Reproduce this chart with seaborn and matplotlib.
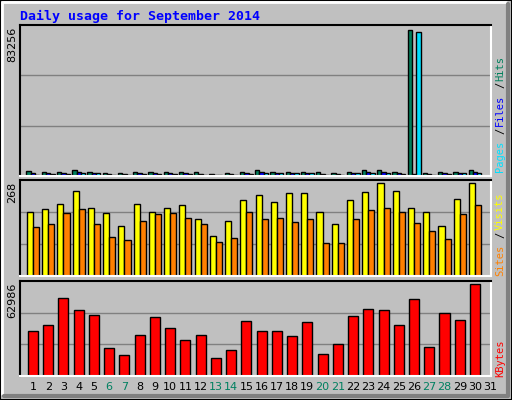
import matplotlib
matplotlib.use("Agg")
import matplotlib.pyplot as plt
import seaborn as sns
import pandas as pd
from matplotlib.patches import Rectangle
from matplotlib.lines import Line2D

days = list(range(1, 32))
hits = [2600,2500,2500,3300,2500,1700,1600,2500,2500,2500,2500,2200,900,1500,2500,3300,2500,2500,2500,2200,1700,2500,3300,3300,2500,83256,1600,2500,2500,3300,0]
files = [1500,1900,1900,2400,1900,1000,900,1900,1900,1900,1900,1200,500,900,1900,2400,1900,1900,1900,1200,900,1900,2400,2400,1900,1200,900,1900,1900,2400,0]
pages = [800,900,900,1600,1600,600,500,900,900,900,900,700,300,500,900,1600,1600,1600,1600,700,500,1600,1600,1600,900,82500,500,900,1600,1600,0]
visits = [186,195,207,245,198,181,146,207,186,198,204,166,117,160,221,233,213,239,239,186,151,221,242,268,245,198,186,146,224,268,0]
sites = [143,151,181,195,151,114,105,160,178,181,169,151,99,111,184,166,169,157,166,96,96,166,192,198,184,154,131,108,178,204,0]
kbytes = [31150,35270,53290,45670,42200,19400,14550,28410,40820,33190,24940,28410,12470,18010,38040,31150,31150,27710,37350,15240,22170,41510,46360,45670,35270,52590,20090,43590,38740,62986,0]
weekend = [6,7,13,14,20,21,27,28]
title = "Daily usage for September 2014"

df = pd.DataFrame(dict(day=days, hits=hits, files=files, pages=pages,
                       visits=visits, sites=sites, kbytes=kbytes))

BG = "#C0C0C0"
sns.set_style("white")
plt.rcParams['font.family'] = ['DejaVu Sans']
fig = plt.figure(figsize=(5.12, 4.0), dpi=100, facecolor=BG)

W, H = 512, 400
def rect(x0, y0, x1, y1):
    return [x0 / W, 1 - y1 / H, (x1 - x0) / W, (y1 - y0) / H]

fig.add_artist(Rectangle((0, 0), 1, 1, transform=fig.transFigure, fill=False, ec="black", lw=1.5))
fig.add_artist(Line2D([2/W, 2/W, 1-6/W], [6/H, 1-2/H, 1-2/H], transform=fig.transFigure, color="white", lw=2))
fig.add_artist(Line2D([4/W, 1-4/W, 1-4/W], [4/H, 4/H, 1-4/H], transform=fig.transFigure, color="#808080", lw=3))

fig.text(20/W, 1 - 16/H, title, color="#0000FF", fontsize=9.5, fontweight="bold",
         family="DejaVu Sans Mono", va="center", ha="left")

panels = [
    (rect(20, 25, 491, 176), ["hits", "files", "pages"], ["#00805C", "#0000FF", "#00E0FF"], 0.85, max(hits)),
    (rect(20, 180, 491, 276), ["visits", "sites"], ["#FFFF00", "#FF8000"], 0.8, max(visits)),
    (rect(20, 281, 491, 376), ["kbytes"], ["#FF0000"], 0.66, max(kbytes)),
]
axes = []
for pos, names, cols, width, mx in panels:
    ax = fig.add_axes(pos)
    ax.set_facecolor(BG)
    top = mx / 0.965
    for g in (top / 3, 2 * top / 3):
        ax.axhline(g, color="#808080", lw=1, zorder=0)
    long = df.melt(id_vars="day", value_vars=names, var_name="series", value_name="v")
    sns.barplot(data=long, x="day", y="v", hue="series", hue_order=names, order=days,
                palette=cols, dodge=True, width=width, edgecolor="black", linewidth=1,
                saturation=1, legend=False, ax=ax, zorder=2)
    ax.set_xlim(-0.85, 30.05)
    ax.set_ylim(0, top)
    ax.set_xticks([]); ax.set_yticks([])
    ax.set_xlabel(""); ax.set_ylabel("")
    for s in ("top", "left"):
        ax.spines[s].set_color("black")
    for s in ("bottom", "right"):
        ax.spines[s].set_color("white")
    for s in ax.spines.values():
        s.set_linewidth(1.5)
    axes.append(ax)

for ax, lab in zip(axes, ["83256", "268", "62986"]):
    b = ax.get_position()
    fig.text(12/W, b.y1 - 2/H, lab, rotation=90, fontsize=8, va="top", ha="center", color="black")

def vlabel(y_bottom_px, parts):
    y = 1 - y_bottom_px / H
    for txt, col in parts:
        fig.text(500/W, y, txt, rotation=90, fontsize=7.5, family="DejaVu Sans Mono",
                 va="bottom", ha="center", color=col)
        y += len(txt) * 7.6 / H
vlabel(172, [("Pages", "#00E0FF"), ("/", "#000000"), ("Files", "#0000FF"), ("/", "#000000"), ("Hits", "#00805C")])
vlabel(276, [("Sites", "#FF8000"), ("/", "#000000"), ("Visits", "#FFFF00")])
vlabel(377, [("KBytes", "#FF0000")])

ax = axes[2]
for i, d in enumerate(days):
    ax.text(i, -0.12, str(d), transform=ax.get_xaxis_transform(), ha="center", va="center",
            fontsize=8, color="#008060" if d in weekend else "black", clip_on=False)

fig.savefig("out.png", dpi=100, facecolor=BG)
